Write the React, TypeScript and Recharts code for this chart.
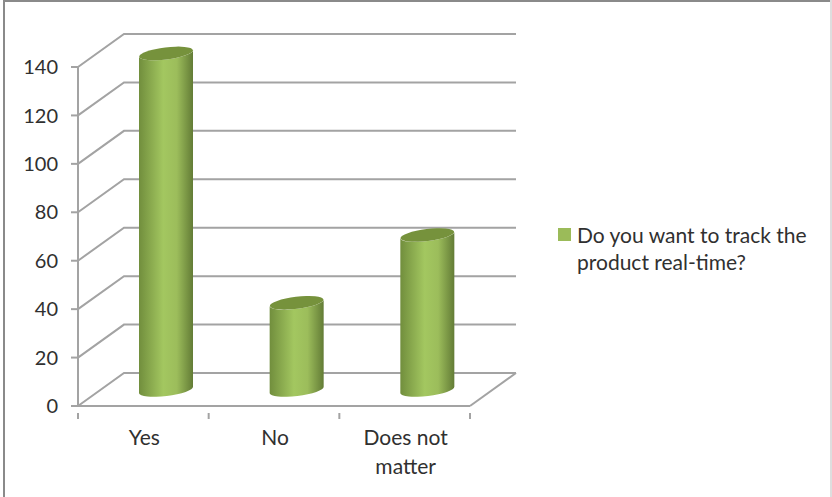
import React from "react";
import { BarChart, Bar, XAxis, YAxis, CartesianGrid, Legend, Text } from "recharts";

const categories = ["Yes", "No", "Does not matter"];
const answers = [139, 36, 64];
const yTicks = [0, 20, 40, 60, 80, 100, 120, 140];
const seriesName = "Do you want to track the product real-time?";

const chartData = categories.map((name, i) => ({ name, answers: answers[i] }));

const FONT = "Lato, sans-serif";
const TEXT = "#303030";
const LINE = "#a3a3a3";
const GREEN = "#9bbb59";
// how far the back wall sits from the front plane
const DEPTH_X = 46;
const DEPTH_Y = 33;
const TILT = -7;

function WallLine({ x1, y1, x2, index }: any) {
  const backX = x1 + DEPTH_X;
  const backY = y1 - DEPTH_Y;
  return (
    <g fill="none" stroke={LINE} strokeWidth={2}>
      <path d={`M${x1} ${y1}L${backX} ${backY}L${x2 + DEPTH_X} ${backY}`} />
      {index === 0 && <path d={`M${x2} ${y1}L${x2 + DEPTH_X} ${backY}`} />}
    </g>
  );
}

function Cylinder({ x, y, width, height }: any) {
  const rx = width / 2;
  const ry = 6;
  const dx = DEPTH_X / 2;
  const dy = -16;
  const cx = x + rx + dx;
  const top = y + dy;
  const bottom = y + height + dy;
  // the ellipse leans, so its ends sit off the centre line
  const lean = rx * Math.tan((-TILT * Math.PI) / 180);
  const left = cx - rx;
  const right = cx + rx;
  const body =
    `M${left} ${top + lean}` +
    `L${left} ${bottom + lean}` +
    `A${rx} ${ry} ${TILT} 0 0 ${right} ${bottom - lean}` +
    `L${right} ${top - lean}` +
    `A${rx} ${ry} ${TILT} 0 1 ${left} ${top + lean}Z`;
  return (
    <g>
      <path d={body} fill="url(#cylinderShade)" />
      <ellipse cx={cx} cy={top} rx={rx} ry={ry} fill="#76923c" transform={`rotate(${TILT} ${cx} ${top})`} />
    </g>
  );
}

function CategoryTick({ x, y, payload, index }: any) {
  const half = payload.offset;
  return (
    <g>
      <line x1={x - half} y1={y - 1} x2={x - half} y2={y + 5} stroke={LINE} strokeWidth={2} />
      {index === categories.length - 1 && (
        <line x1={x + half} y1={y - 1} x2={x + half} y2={y + 5} stroke={LINE} strokeWidth={2} />
      )}
      <Text
        x={x + 1}
        y={y + 16}
        width={110}
        textAnchor="middle"
        verticalAnchor="start"
        lineHeight={29}
        style={{ fontFamily: FONT, fontSize: 21 }}
        fill={TEXT}
      >
        {payload.value}
      </Text>
    </g>
  );
}

function SeriesKey({ payload }: any) {
  return (
    <div style={{ display: "flex", fontFamily: FONT, fontSize: 21, lineHeight: "27px", color: TEXT, textAlign: "left" }}>
      <span style={{ flex: "none", width: 13, height: 13, marginTop: 7, marginRight: 6, background: GREEN }} />
      <span>{payload?.[0]?.value}</span>
    </div>
  );
}

export default function App() {
  return (
    <div
      style={{
        position: "absolute",
        left: 0,
        top: 0,
        width: 832,
        height: 497,
        background: "#fff",
        overflow: "hidden",
      }}
    >
      <BarChart
        width={832}
        height={497}
        data={chartData}
        margin={{ top: 67, right: 362, bottom: 0, left: 0 }}
        barSize={54}
      >
        <defs>
          <linearGradient id="cylinderShade" x1="0" y1="0" x2="1" y2="0">
            <stop offset="0%" stopColor="#718e3d" />
            <stop offset="45%" stopColor="#a3c760" />
            <stop offset="70%" stopColor="#9cbd5b" />
            <stop offset="100%" stopColor="#637c36" />
          </linearGradient>
        </defs>
        <CartesianGrid vertical={false} horizontal={(props: any) => <WallLine {...props} />} />
        <XAxis
          dataKey="name"
          height={91}
          interval={0}
          tickLine={false}
          axisLine={{ stroke: LINE, strokeWidth: 2 }}
          tick={(props: any) => <CategoryTick {...props} />}
        />
        <YAxis
          width={78}
          domain={[0, 140]}
          ticks={yTicks}
          interval={0}
          tickSize={7}
          tickMargin={13}
          axisLine={{ stroke: LINE, strokeWidth: 2 }}
          tickLine={{ stroke: LINE, strokeWidth: 2 }}
          tick={{ fill: TEXT, fontFamily: FONT, fontSize: 20 }}
        />
        <Legend
          layout="vertical"
          align="center"
          verticalAlign="middle"
          content={(props: any) => <SeriesKey {...props} />}
          wrapperStyle={{ left: 558, top: 221, width: 262 }}
        />
        <Bar
          dataKey="answers"
          name={seriesName}
          fill={GREEN}
          isAnimationActive={false}
          shape={(props: any) => <Cylinder {...props} />}
        />
      </BarChart>
      {/* outer chart frame */}
      <div style={{ position: "absolute", left: 3, top: 0, width: 2, height: 497, background: "#8a8a8a" }} />
      <div style={{ position: "absolute", left: 3, top: 0, width: 829, height: 2, background: "#8a8a8a" }} />
      <div style={{ position: "absolute", left: 830, top: 0, width: 2, height: 497, background: "#dedede" }} />
    </div>
  );
}
